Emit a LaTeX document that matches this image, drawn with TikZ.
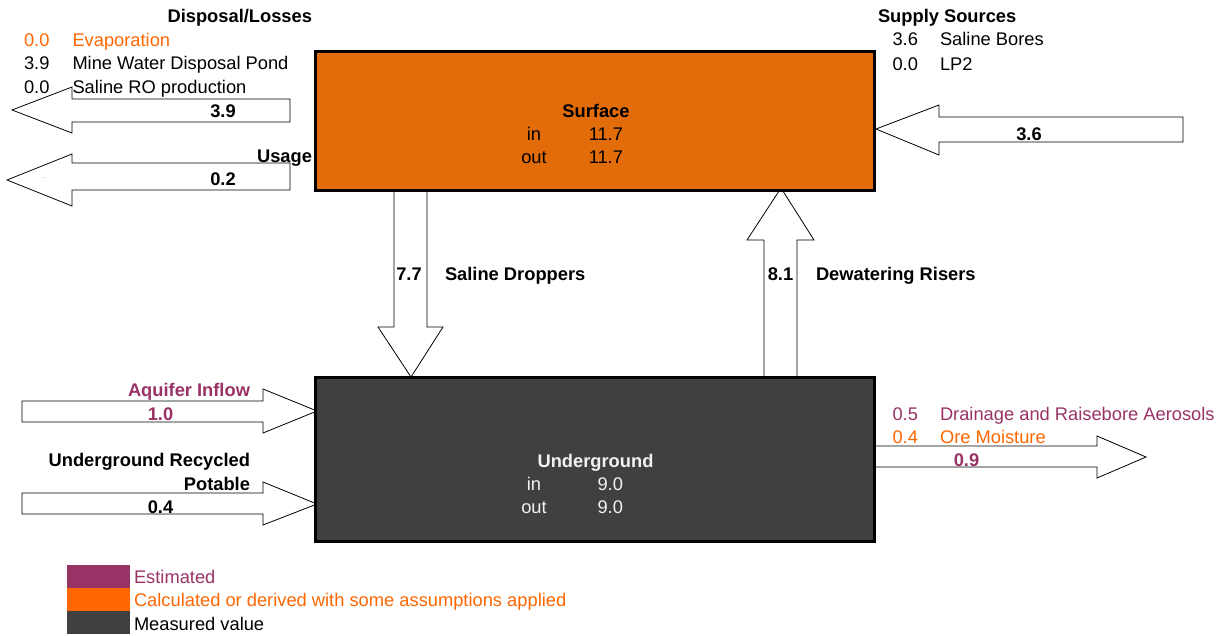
\documentclass[tikz,border=0pt]{standalone}
\usepackage{fontspec}
\setmainfont{Liberation Sans}
\usetikzlibrary{backgrounds}
\definecolor{est}{HTML}{993366}
\definecolor{calc}{HTML}{FF6600}
\definecolor{surf}{HTML}{E26B0A}
\definecolor{meas}{HTML}{404040}
\definecolor{lighttxt}{HTML}{F2F2F2}
\tikzset{
  txt/.style={inner sep=0pt, outer sep=0pt, font=\fontsize{18.3}{22}\selectfont},
  btxt/.style={inner sep=0pt, outer sep=0pt, font=\fontsize{18.3}{22}\selectfont\bfseries},
  blockarrow/.style={draw=black, fill=white, line width=0.8pt, line join=miter},
  balancebox/.style={draw=black, line width=3pt, inner sep=0pt, outer sep=0pt},
  swatch/.style={inner sep=0pt, outer sep=0pt, minimum width=63pt, minimum height=23pt},
}
\begin{document}
\begin{tikzpicture}[x=1pt,y=-1pt]
\useasboundingbox (0,0) rectangle (1222,635);

% balance boxes
\node[balancebox, fill=surf, minimum width=559pt, minimum height=139pt] (surface) at (594.5,120.5) {};
\node[balancebox, fill=meas, minimum width=559pt, minimum height=164pt] (underground) at (594.5,459.5) {};

% block arrows (behind boxes)
\begin{scope}[on background layer]
\draw[blockarrow] (290,99) -- (72,99) -- (72,87) -- (12,110) -- (72,133) -- (72,122) -- (290,122) -- cycle;
\draw[blockarrow] (290,163) -- (72,163) -- (72,154) -- (7,180) -- (72,206) -- (72,190) -- (290,190) -- cycle;
\draw[blockarrow] (1183,117) -- (939,117) -- (939,105) -- (876,129) -- (939,155) -- (939,142) -- (1183,142) -- cycle;
\draw[blockarrow] (394,190) -- (394,327) -- (378,327) -- (411,377) -- (443,327) -- (427,327) -- (427,190);
\draw[blockarrow] (764,377) -- (764,240) -- (747,240) -- (781,188) -- (814,240) -- (797,240) -- (797,377);
\draw[blockarrow] (22,401) -- (263,401) -- (263,389) -- (317,411) -- (263,433) -- (263,422) -- (22,422) -- cycle;
\draw[blockarrow] (22,493) -- (263,493) -- (263,482) -- (317,504) -- (263,525) -- (263,514) -- (22,514) -- cycle;
\draw[blockarrow] (875,446) -- (1097,446) -- (1097,436) -- (1146,457) -- (1097,478) -- (1097,467) -- (875,467);
\end{scope}

% surface box text
\node[btxt, anchor=base] (surftitle) at (596,117) {Surface};
\node[txt, anchor=base] (surfinl) at (534,140) {in};
\node[txt, anchor=base east] (surfinv) at (623,140) {11.7};
\node[txt, anchor=base] (surfoutl) at (534,163) {out};
\node[txt, anchor=base east] (surfoutv) at (623,163) {11.7};

% underground box text
\node[btxt, anchor=base, text=lighttxt] (ugtitle) at (595.5,467) {Underground};
\node[txt, anchor=base, text=lighttxt] (uginl) at (534,490) {in};
\node[txt, anchor=base east, text=lighttxt] (uginv) at (623,490) {9.0};
\node[txt, anchor=base, text=lighttxt] (ugoutl) at (534,513) {out};
\node[txt, anchor=base east, text=lighttxt] (ugoutv) at (623,513) {9.0};

% disposal / losses
\node[btxt, anchor=base east] (disphead) at (312,22.7) {Disposal/Losses};
\node[txt, anchor=base west, text=calc] (evapv) at (24,46) {0.0};
\node[txt, anchor=base west, text=calc] (evapl) at (72.5,46) {Evaporation};
\node[txt, anchor=base west] (pondv) at (24,69.5) {3.9};
\node[txt, anchor=base west] (pondl) at (72.5,69.5) {Mine Water Disposal Pond};
\node[txt, anchor=base west] (rov) at (24,93) {0.0};
\node[txt, anchor=base west] (rol) at (72.5,93) {Saline RO production};
\node[btxt, anchor=base] (dispval) at (223,117.3) {3.9};
\node[btxt, anchor=base east] (usagehead) at (312,162.7) {Usage};
\node[btxt, anchor=base] (usageval) at (223,185) {0.2};
\node[inner sep=0pt, font=\fontsize{6}{7}\selectfont] (usagedot) at (44,178) {.};

% supply sources
\node[btxt, anchor=base west] (supphead) at (878,22.7) {Supply Sources};
\node[txt, anchor=base west] (borev) at (892.5,45.7) {3.6};
\node[txt, anchor=base west] (borel) at (940,45.7) {Saline Bores};
\node[txt, anchor=base west] (lpv) at (892.5,70) {0.0};
\node[txt, anchor=base west] (lpl) at (940,70) {LP2};
\node[btxt, anchor=base] (suppval) at (1029,140) {3.6};

% droppers / risers
\node[btxt, anchor=base] (dropval) at (409,280) {7.7};
\node[btxt, anchor=base west] (droplbl) at (445,280) {Saline Droppers};
\node[btxt, anchor=base] (riseval) at (780.5,280) {8.1};
\node[btxt, anchor=base west] (riselbl) at (816,280) {Dewatering Risers};

% underground inflows
\node[btxt, anchor=base east, text=est] (aqhead) at (250,396.7) {Aquifer Inflow};
\node[btxt, anchor=base, text=est] (aqval) at (160.5,420.7) {1.0};
\node[btxt, anchor=base east] (rechead1) at (250,466.7) {Underground Recycled};
\node[btxt, anchor=base east] (rechead2) at (250,490) {Potable};
\node[btxt, anchor=base] (recval) at (160.5,513.3) {0.4};

% underground outflows
\node[txt, anchor=base west, text=est] (drainv) at (892.5,420.7) {0.5};
\node[txt, anchor=base west, text=est] (drainl) at (940,420.7) {Drainage and Raisebore Aerosols};
\node[txt, anchor=base west, text=calc] (orev) at (892.5,443.3) {0.4};
\node[txt, anchor=base west, text=calc] (orel) at (940,443.3) {Ore Moisture};
\node[btxt, anchor=base, text=est] (outval) at (966.5,466) {0.9};

% legend
\node[swatch, fill=est] (swest) at (98.5,576.5) {};
\node[swatch, fill=calc] (swcalc) at (98.5,599.5) {};
\node[swatch, fill=meas] (swmeas) at (98.5,622.5) {};
\node[txt, anchor=base west, text=est] (lgest) at (134,583.3) {Estimated};
\node[txt, anchor=base west, text=calc] (lgcalc) at (134,606.7) {Calculated or derived with some assumptions applied};
\node[txt, anchor=base west] (lgmeas) at (134,630) {Measured value};
\end{tikzpicture}
\end{document}
